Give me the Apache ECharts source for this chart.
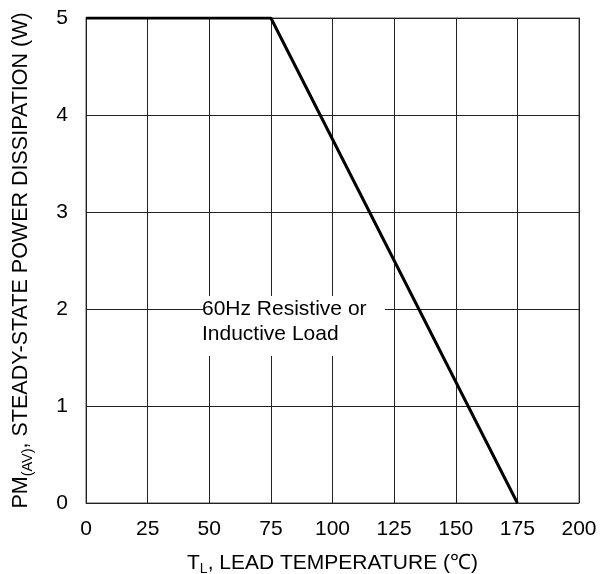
<!DOCTYPE html>
<html>
<head>
<meta charset="utf-8">
<script src="https://cdn.jsdelivr.net/npm/echarts@6/dist/echarts.min.js"></script>
<style>
html, body { margin: 0; padding: 0; background: #fff; }
#chart { width: 613px; height: 574px; }
</style>
</head>
<body>
<div id="chart"></div>
<script>
// lead temperature (C) vs steady-state power dissipation (W)
var temps = [0, 75, 175];
var power = [5, 5, 0];
var xTicks = [0, 25, 50, 75, 100, 125, 150, 175, 200];
var yTicks = [0, 1, 2, 3, 4, 5];

var font = '"Liberation Sans", Arial, sans-serif';
var xRich = {
    m: { fontSize: 21, fontFamily: font, color: '#000' },
    sub: { fontSize: 14, fontFamily: font, color: '#000', padding: [12, 0, 0, 0] }
};
var yRich = {
    m: { fontSize: 21.5, fontFamily: font, color: '#000' },
    sub: { fontSize: 14.5, fontFamily: font, color: '#000', padding: [12, 0, 0, 0] }
};

echarts.init(document.getElementById('chart')).setOption({
    animation: false,
    grid: {
        left: 86,
        right: 34,
        top: 18,
        bottom: 71,
        outerBoundsMode: 'none',
        show: true,
        borderColor: '#8c8c8c',
        borderWidth: 1.5
    },
    xAxis: {
        type: 'value',
        min: xTicks[0],
        max: xTicks[xTicks.length - 1],
        interval: 25,
        axisLine: { show: false },
        axisTick: { show: false },
        splitLine: { lineStyle: { color: '#222', width: 1 } },
        axisLabel: { color: '#000', fontSize: 21, fontFamily: font, margin: 16 },
        name: '{m|T}{sub|L}{m|, LEAD TEMPERATURE (℃)}',
        nameLocation: 'middle',
        nameGap: 47,
        nameTextStyle: { rich: xRich }
    },
    yAxis: {
        type: 'value',
        min: yTicks[0],
        max: yTicks[yTicks.length - 1],
        interval: 1,
        axisLine: { show: false },
        axisTick: { show: false },
        splitLine: { lineStyle: { color: '#222', width: 1 } },
        axisLabel: { color: '#000', fontSize: 21, fontFamily: font, margin: 18 },
        name: '{m|PM}{sub|(AV)}{m|, STEADY-STATE POWER DISSIPATION (W)}',
        nameLocation: 'middle',
        nameRotate: 90,
        nameGap: 51,
        nameTextStyle: { rich: yRich }
    },
    graphic: [
        { type: 'rect', left: 203, top: 296, shape: { width: 182, height: 60 }, style: { fill: '#fff' }, z: 10 },
        {
            type: 'text', left: 202, top: 297, z: 11,
            style: {
                text: '60Hz Resistive or\nInductive Load',
                font: '21px ' + font,
                fill: '#000',
                lineHeight: 25
            }
        }
    ],
    series: [{
        type: 'line',
        data: temps.map(function (t, i) { return [t, power[i]]; }),
        symbol: 'none',
        lineStyle: { color: '#000', width: 3 },
        z: 5
    }]
});
</script>
</body>
</html>
